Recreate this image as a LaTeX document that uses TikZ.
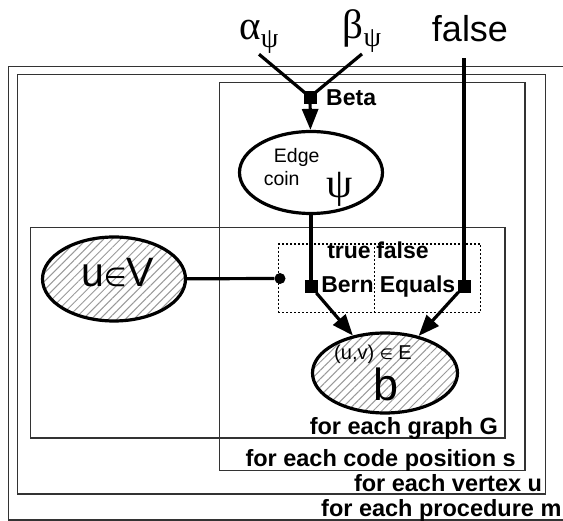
\documentclass[tikz,border=0pt]{standalone}
\usepackage{fontspec}
\setmainfont{Liberation Sans}
\newfontfamily\greekfont{Liberation Serif}
\newfontfamily\relfont{DejaVu Sans}
\usetikzlibrary{arrows.meta}
\usetikzlibrary{shapes.geometric}
\usetikzlibrary{patterns.meta}
\tikzstyle{plate}=[draw=black!80, line width=1.3pt]
\tikzstyle{plate label}=[font=\bfseries\fontsize{23.5}{25}\selectfont, anchor=base east, inner sep=0]
\tikzstyle{factor label}=[font=\bfseries\fontsize{23}{25}\selectfont, anchor=base, inner sep=0]
\tikzstyle{parameter}=[font=\greekfont\fontsize{41}{42}\selectfont, anchor=base, inner sep=0, outer sep=1pt]
\tikzstyle{latent var}=[draw, ellipse, line width=3.2pt, minimum width=143pt, minimum height=82pt]
\tikzstyle{observed var}=[latent var, pattern={Lines[angle=45, distance=6pt, line width=1pt]}, pattern color=gray!80]
\tikzstyle{var text}=[anchor=base, inner sep=0]
\tikzstyle{factor}=[draw, fill, rectangle, minimum size=12pt, inner sep=0]
\tikzstyle{gate box}=[draw, dash pattern=on 2pt off 2pt, line width=1.3pt]
\tikzstyle{connector}=[line width=3.2pt]
\tikzstyle{dependency}=[connector, -{Triangle[length=21pt, width=16pt]}]

\begin{document}
\begin{tikzpicture}[x=1pt, y=-1pt]
    \useasboundingbox (0, 0) rectangle (563, 521);

    \draw[plate] (8.7, 66.7) rectangle (570, 520);
    \draw[plate] (17.3, 74.7) rectangle (545.3, 494);
    \draw[plate] (219.3, 82.7) rectangle (525, 470.7);
    \draw[plate] (30.7, 227.3) rectangle (505, 438);
    \node[plate label] (graph_lbl) at (498, 435) {for each graph G};
    \node[plate label] (position_lbl) at (516, 466.7) {for each code position s};
    \node[plate label] (vertex_lbl) at (542.3, 491.7) {for each vertex u};
    \node[plate label] (procedure_lbl) at (561.7, 516.7) {for each procedure m};

    \node[parameter] (alpha_p) at (259, 39.3) {α\raisebox{-8pt}{\fontsize{28}{28}\selectfont ψ}};
    \node[parameter] (beta_p) at (362, 39) {β\raisebox{-8pt}{\fontsize{28}{28}\selectfont ψ}};
    \node[anchor=base, inner sep=0, font=\fontsize{36}{38}\selectfont] (false_p) at (470, 41.7) {false};

    \node[factor] (beta_f) at (310, 97) {};
    \node[factor label, anchor=base west] (beta_lbl) at (326, 106) {Beta};

    \node[latent var] (coin) at (311, 172.5) {};
    \node[var text, font=\fontsize{19.5}{20}\selectfont] (coin_edge) at (296.7, 162.3) {Edge};
    \node[var text, font=\fontsize{19.5}{20}\selectfont] (coin_coin) at (281.7, 186) {coin};
    \node[var text, font=\greekfont\fontsize{42}{42}\selectfont] (coin_psi) at (340, 198) {ψ};

    \node[observed var, minimum height=84pt] (uv) at (114, 279) {};
    \node[var text, font=\fontsize{41}{41}\selectfont] (uv_txt) at (117.5, 286.7)
      {u{\relfont\fontsize{26}{26}\selectfont ∈}V};

    \node[gate box, minimum width=202.4pt, minimum height=68.7pt] (gate) at (379.5, 278.5) {};
    \coordinate (gate_split) at (374.3, 278.5);
    \draw[gate box] (gate.north -| gate_split) -- (gate.south -| gate_split);
    \node[circle, fill, minimum size=11pt, inner sep=0] (gate_dot) at (280, 278.5) {};
    \node[factor label] (true_lbl) at (349, 258.3) {true};
    \node[factor label] (false_lbl) at (402.5, 258.3) {false};
    \node[factor] (bern_f) at (311, 286.7) {};
    \node[factor] (equals_f) at (464, 286) {};
    \node[factor label] (bern_lbl) at (347.5, 292.7) {Bern};
    \node[factor label] (equals_lbl) at (417.5, 292.7) {Equals};

    \node[observed var, minimum width=145pt, minimum height=80pt] (b) at (385, 373) {};
    \node[var text, font=\fontsize{20}{20}\selectfont] (b_set) at (373, 360)
      {(u,v) {\relfont\fontsize{15}{15}\selectfont ∈} E};
    \node[var text, font=\fontsize{45}{45}\selectfont] (b_txt) at (386, 401) {b};

    \draw[connector] (alpha_p.south) -- (beta_f.center);
    \draw[connector] (beta_p.south) -- (beta_f.center);
    \draw[dependency] (beta_f) -- (coin);
    \draw[connector] (coin) -- (bern_f.center);
    \draw[connector, shorten <=16pt] (false_p.south -| equals_f) -- (equals_f.center);
    \draw[connector] (uv) -- (gate_dot);
    \draw[dependency] (bern_f) -- (b);
    \draw[dependency] (equals_f) -- (b);
  \end{tikzpicture}
\end{document}
